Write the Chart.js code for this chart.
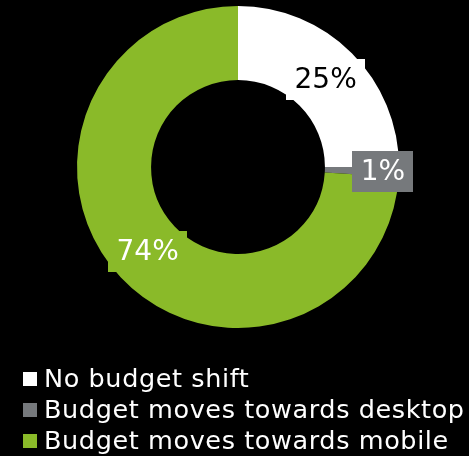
<!DOCTYPE html>
<html>
<head>
<meta charset="utf-8">
<script src="https://cdn.jsdelivr.net/npm/chart.js@4.4.1/dist/chart.umd.min.js"></script>
<style>
  html, body { margin: 0; padding: 0; background: #000; }
  #wrap { width: 469px; height: 456px; }
</style>
</head>
<body>
<div id="wrap"><canvas id="chart-budget-shift"></canvas></div>
<script>
// Budget shift split
const labels = ['No budget shift', 'Budget moves towards desktop', 'Budget moves towards mobile'];
const shares = [25, 1, 74];
const colors = ['#ffffff', '#76797c', '#8aba29'];
const labelTextColors = ['#000000', '#ffffff', '#ffffff'];

const FONT = "'DejaVu Sans', Verdana, sans-serif";

// Value labels in boxes filled with the slice colour
const sliceLabels = {
  id: 'sliceLabels',
  afterDatasetsDraw(chart) {
    const ctx = chart.ctx;
    const meta = chart.getDatasetMeta(0);
    ctx.save();
    ctx.font = '28px ' + FONT;
    ctx.textAlign = 'center';
    ctx.textBaseline = 'middle';
    meta.data.forEach((arc, i) => {
      const mid = (arc.startAngle + arc.endAngle) / 2;
      let r = (arc.innerRadius + arc.outerRadius) / 2;
      if (shares[i] < 5) r += 21; // small slice: push label outward
      const x = arc.x + Math.cos(mid) * r;
      const y = arc.y + Math.sin(mid) * r;
      const text = shares[i] + '%';
      const w = ctx.measureText(text).width + 17;
      const h = 41;
      ctx.fillStyle = colors[i];
      ctx.fillRect(Math.round(x - w / 2), Math.round(y - h / 2), Math.round(w), h);
      ctx.fillStyle = labelTextColors[i];
      ctx.fillText(text, x, y + 1);
    });
    ctx.restore();
  }
};

// Left-aligned legend under the ring
const bottomLegend = {
  id: 'bottomLegend',
  afterDraw(chart) {
    const ctx = chart.ctx;
    ctx.save();
    ctx.font = '25.5px ' + FONT;
    ctx.letterSpacing = '0.6px';
    ctx.textBaseline = 'alphabetic';
    labels.forEach((lbl, i) => {
      const base = 387 + i * 31;
      ctx.fillStyle = colors[i];
      ctx.fillRect(23, base - 15, 14, 14);
      ctx.fillStyle = '#ffffff';
      ctx.fillText(lbl, 44, base);
    });
    ctx.restore();
  }
};

new Chart(document.getElementById('chart-budget-shift').getContext('2d'), {
  type: 'doughnut',
  data: {
    labels: labels,
    datasets: [{
      data: shares,
      backgroundColor: colors,
      borderWidth: 0
    }]
  },
  options: {
    responsive: true,
    maintainAspectRatio: false,
    animation: false,
    cutout: '54%',
    layout: { padding: { top: 6, bottom: 128, left: 77, right: 70 } },
    plugins: {
      legend: { display: false },
      tooltip: { enabled: false }
    }
  },
  plugins: [sliceLabels, bottomLegend]
});
</script>
</body>
</html>
